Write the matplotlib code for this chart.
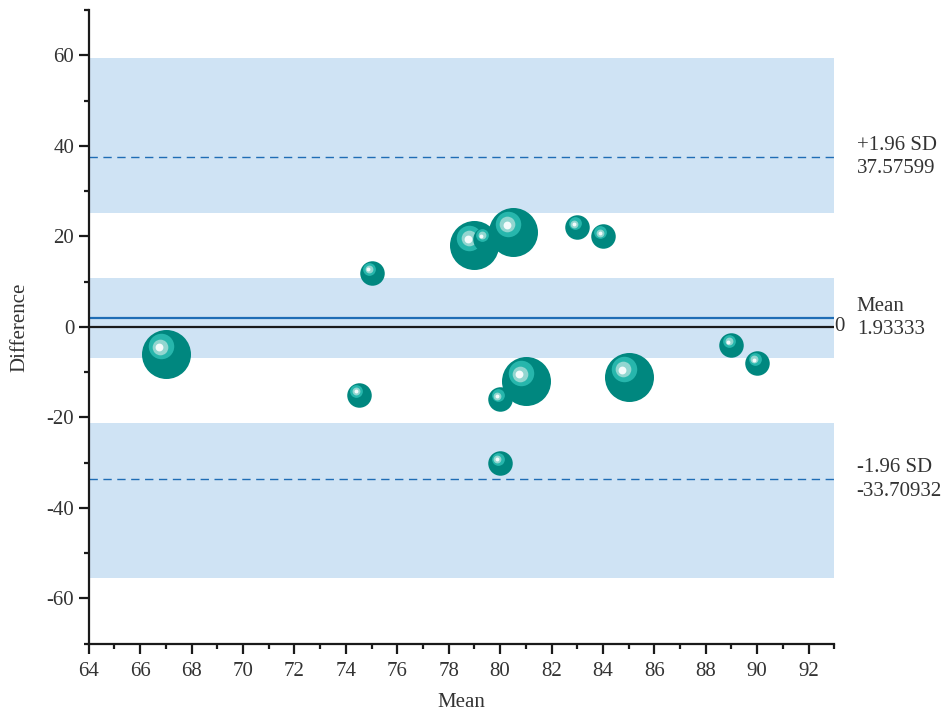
import matplotlib
matplotlib.use("Agg")
import matplotlib.pyplot as plt
import matplotlib.transforms as mtransforms
from matplotlib.ticker import MultipleLocator
import numpy as np

# Bland-Altman data
mean_vals = [67.0, 75.0, 74.5, 79.0, 79.4, 80.5, 83.0, 84.0, 81.0, 80.0, 85.0, 89.0, 90.0, 80.0]
diff_vals = [-6.0, 12.0, -15.0, 18.0, 19.4, 21.0, 22.0, 20.0, -12.0, -16.0, -11.0, -4.0, -8.0, -30.0]
bubble_vals = [2, 1, 1, 2, 1, 2, 1, 1, 2, 1, 2, 1, 1, 1]

mean_diff = 1.93333
upper_loa = 37.57599
lower_loa = -33.70932
# confidence bands (lower, upper)
band_upper = (25.2, 59.3)
band_mean = (-6.9, 10.8)
band_lower = (-55.4, -21.3)

plt.rcParams['font.family'] = ['Liberation Serif', 'DejaVu Serif']
plt.rcParams['axes.unicode_minus'] = False

fig = plt.figure(figsize=(9.42, 7.14), dpi=100)
ax = fig.add_axes([0.0942, 0.0985, 0.7915, 0.8875])

band_col = '#cfe3f4'
for lo, hi in [band_upper, band_mean, band_lower]:
    ax.axhspan(lo, hi, color=band_col, lw=0, zorder=0)

line_col = '#1f6db5'
ax.axhline(upper_loa, color=line_col, lw=1.0, ls=(0, (6, 4)), zorder=1)
ax.axhline(lower_loa, color=line_col, lw=1.0, ls=(0, (6, 4)), zorder=1)
ax.axhline(mean_diff, color=line_col, lw=1.6, zorder=1)
ax.axhline(0, color='#1a1a1a', lw=1.6, zorder=1)

# sphere-like bubbles: base disc plus offset highlights
base_px = 24.5  # diameter in pixels for value 1
layers = [(1.0, 0.0, 0.0, '#00877f'),
          (0.52, -0.20, 0.32, '#27b6ac'),
          (0.32, -0.24, 0.30, '#92d6d0'),
          (0.16, -0.26, 0.28, '#f4fbfb')]
z = 3
for xv, yv, bv in zip(mean_vals, diff_vals, bubble_vals):
    d = base_px * bv
    r = d / 2
    for frac, ox, oy, col in layers:
        tr = mtransforms.offset_copy(ax.transData, fig=fig, x=ox * r, y=oy * r, units='dots')
        s = (d * frac * 72 / fig.dpi) ** 2
        ax.scatter([xv], [yv], s=s, color=col, lw=0, transform=tr, zorder=z, clip_on=False)
        z += 0.01

ax.set_xlim(64, 93)
ax.set_ylim(-70, 70)
ax.xaxis.set_major_locator(MultipleLocator(2))
ax.xaxis.set_minor_locator(MultipleLocator(1))
ax.yaxis.set_major_locator(MultipleLocator(20))
ax.yaxis.set_minor_locator(MultipleLocator(10))
ax.set_yticks([-60, -40, -20, 0, 20, 40, 60])

for side in ['top', 'right']:
    ax.spines[side].set_visible(False)
for side in ['left', 'bottom']:
    ax.spines[side].set_linewidth(1.6)
    ax.spines[side].set_color('#1a1a1a')
    ax.spines[side].set_zorder(5)

fs = 15
ax.tick_params(which='major', direction='out', length=7, width=1.6, labelsize=fs,
               colors='#1a1a1a', labelcolor='#333333')
ax.tick_params(axis='x', which='major', pad=6)
ax.tick_params(which='minor', direction='out', length=3.5, width=1.6, colors='#1a1a1a')

ax.set_xlabel('Mean', fontsize=fs, color='#333333', labelpad=9)
ax.set_ylabel('Difference', fontsize=fs, color='#333333', labelpad=12)

trans = mtransforms.blended_transform_factory(ax.transAxes, ax.transData)
ax.text(1.0, 0, '0', transform=trans, fontsize=fs, color='#333333', va='center', ha='left')
lbl_kw = dict(transform=trans, fontsize=fs, color='#333333', va='center', ha='left', linespacing=1.3)
ax.text(1.03, upper_loa, '+1.96 SD\n%.5f' % upper_loa, **lbl_kw)
ax.text(1.03, mean_diff, 'Mean\n%.5f' % mean_diff, **lbl_kw)
ax.text(1.03, lower_loa, '-1.96 SD\n%.5f' % lower_loa, **lbl_kw)

fig.savefig('out.png', dpi=100)
